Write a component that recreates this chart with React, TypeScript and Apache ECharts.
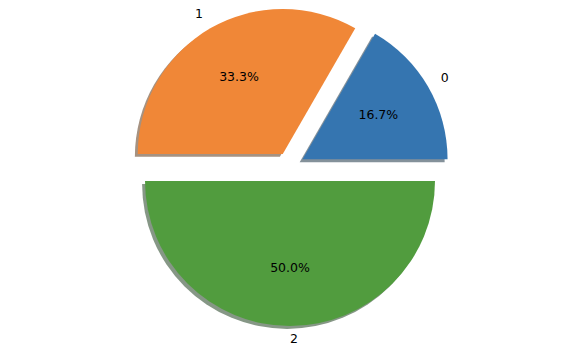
import React, { useEffect, useRef } from "react";
import * as echarts from "echarts";

const categories = ["0", "1", "2"];
const values = [1, 2, 3];
const colors = ["#3575b0", "#f08737", "#519c3e"];
const shadowColors = ["#84919a", "#a69281", "#869786"];

const CX = 290;
const CY = 166.5;
const R = 145;
const EXPLODE = 14.5;

export default function App() {
  const ref = useRef<HTMLDivElement>(null);
  useEffect(() => {
    if (!ref.current) return;
    const chart = echarts.init(ref.current, undefined, { renderer: "svg" });
    const total = values.reduce((a, b) => a + b, 0);
    const base = {
      type: "pie" as const,
      startAngle: 0,
      clockwise: false,
      selectedMode: "multiple" as const,
      selectedOffset: EXPLODE,
      avoidLabelOverlap: false,
      minAngle: 0,
      emphasis: { disabled: true },
      labelLine: { show: false },
    };
    const font = {
      fontFamily: "DejaVu Sans",
      fontSize: 12.5,
      color: "#000",
    };
    chart.setOption({
      animation: false,
      backgroundColor: "#ffffff",
      series: [
        {
          ...base,
          silent: true,
          center: [CX - 2.9, CY + 2.9],
          radius: [0, R],
          z: 1,
          label: { show: false },
          data: values.map((v, i) => ({
            name: categories[i],
            value: v,
            selected: true,
            itemStyle: { color: shadowColors[i] },
          })),
        },
        {
          ...base,
          silent: true,
          center: [CX, CY],
          radius: [0, R],
          z: 2,
          label: { show: false },
          data: values.map((v, i) => ({
            name: categories[i],
            value: v,
            selected: true,
            itemStyle: { color: colors[i] },
          })),
        },
        {
          ...base,
          silent: true,
          center: [CX, CY],
          radius: [0, R * 1.2 - 5],
          z: 3,
          itemStyle: { color: "rgba(0,0,0,0)" },
          label: {
            show: true,
            position: "inside",
            ...font,
            formatter: (p: any) => ((p.value / total) * 100).toFixed(1) + "%",
          },
          labelLayout: { dy: -1.5 },
          data: values.map((v, i) => ({
            name: categories[i],
            value: v,
            selected: true,
          })),
        },
        {
          ...base,
          silent: true,
          center: [CX, CY],
          radius: [0, R * 2.2 - 6],
          z: 3,
          itemStyle: { color: "rgba(0,0,0,0)" },
          label: {
            show: true,
            position: "inside",
            ...font,
            formatter: "{b}",
          },
          labelLayout: (p: any) => ({
            align: p.dataIndex === 1 ? "right" : "left",
            dy: -2.5,
          }),
          data: values.map((v, i) => ({
            name: categories[i],
            value: v,
            selected: true,
          })),
        },
      ],
    });
    return () => chart.dispose();
  }, []);
  return (
    <div
      ref={ref}
      style={{ position: "fixed", left: 0, top: 0, width: 582, height: 350 }}
    />
  );
}
